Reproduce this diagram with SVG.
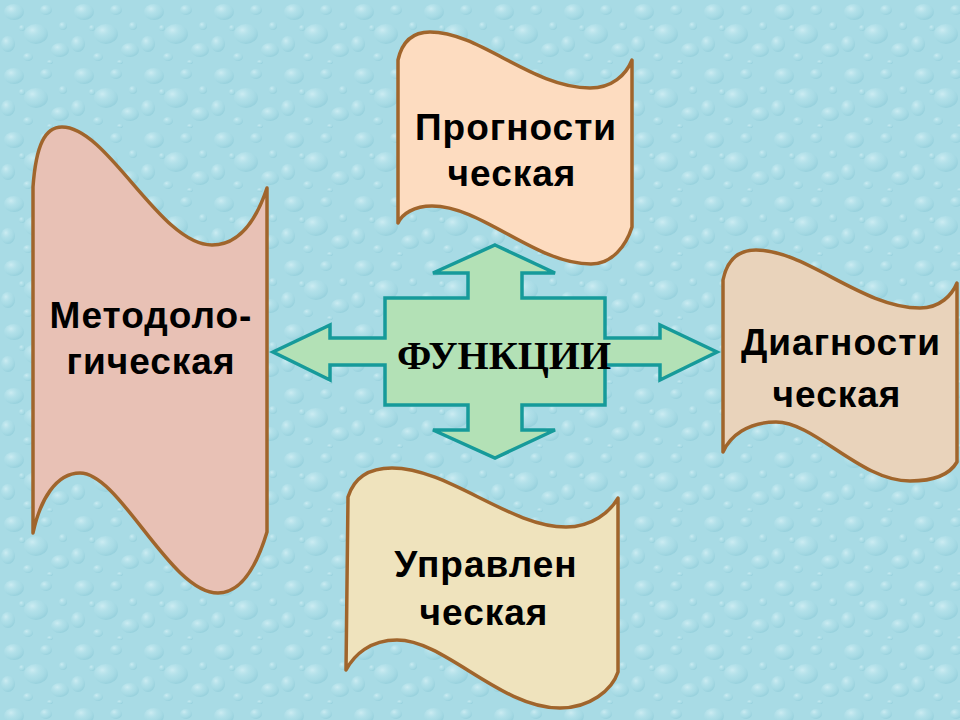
<svg xmlns="http://www.w3.org/2000/svg" width="960" height="720" viewBox="0 0 960 720">
<defs>
<radialGradient id="drop" cx="0.35" cy="0.3" r="0.7">
<stop offset="0" stop-color="#eafafd" stop-opacity="0.55"/>
<stop offset="0.55" stop-color="#bfe8ef" stop-opacity="0.2"/>
<stop offset="1" stop-color="#7cc0cf" stop-opacity="0.35"/>
</radialGradient>
<pattern id="water" width="70" height="64" patternUnits="userSpaceOnUse">
<rect width="70" height="64" fill="#a8dbe5"/>
<ellipse cx="14" cy="12" rx="10" ry="8" fill="url(#drop)"/>
<ellipse cx="46" cy="10" rx="6" ry="5" fill="url(#drop)"/>
<ellipse cx="36" cy="34" rx="12" ry="10" fill="url(#drop)"/>
<ellipse cx="8" cy="44" rx="7" ry="8" fill="url(#drop)"/>
<ellipse cx="60" cy="50" rx="9" ry="7" fill="url(#drop)"/>
<ellipse cx="28" cy="57" rx="5" ry="4" fill="url(#drop)"/>
<ellipse cx="63" cy="26" rx="4" ry="4" fill="url(#drop)"/>
<ellipse cx="22" cy="28" rx="3" ry="3" fill="url(#drop)"/>
<ellipse cx="50" cy="62" rx="3" ry="2" fill="url(#drop)"/>
</pattern>
</defs>
<style>
.tape{stroke:#a0652c;stroke-width:3.5;stroke-linejoin:round}
.lbl{font-family:"Liberation Sans",Arial,sans-serif;font-weight:bold;font-size:37px;letter-spacing:1px;fill:#000;text-anchor:middle}
.cross{fill:#b3e1b6;stroke:#169a9a;stroke-width:3.5;stroke-linejoin:miter}
.center{font-family:"Liberation Serif","Times New Roman",serif;font-weight:bold;font-size:40px;fill:#000;text-anchor:middle}
</style>
<rect width="960" height="720" fill="url(#water)"/>

<g id="connectors">
<polygon class="cross" points="495,245 555,273 522,273 522,298 605,298 605,338 660,338 660,325 717,352 660,380 660,365 605,365 605,405 522,405 522,430 555,430 495,458 433,430 468,430 468,405 385,405 385,365 330,365 330,380 273,352 330,325 330,338 385,338 385,298 468,298 468,273 433,273"/>
</g>

<g id="node-functions">
<text class="center" x="504" y="369">ФУНКЦИИ</text>
</g>

<g id="node-methodological">
<path class="tape" fill="#e8c1b5" d="M33,187 C36,145 45,127 62,127 C108,127 160,245 212,245 C242,245 258,215 267,188 L267,532 C257,565 242,593 218,593 C170,593 120,473 80,473 C56,473 40,500 33,533 Z"/>
<text class="lbl" x="151" y="328">Методоло-</text>
<text class="lbl" x="151" y="374">гическая</text>
</g>

<g id="node-prognostic">
<path class="tape" fill="#fddcc0" d="M398,60 C402,42 412,32 430,32 C480,32 532,88 590,88 C612,88 626,75 632,60 L632,227 C626,246 612,264 591,264 C535,264 482,206 432,206 C414,206 402,214 398,223 Z"/>
<text class="lbl" x="516" y="140">Прогности</text>
<text class="lbl" x="512" y="186">ческая</text>
</g>

<g id="node-diagnostic">
<path class="tape" fill="#e9d3bb" d="M723,280 C727,260 738,250 756,250 C806,250 862,308 920,308 C940,308 952,295 957,283 L957,462 C950,474 935,481 910,481 C860,481 815,422 776,422 C748,422 730,436 723,452 Z"/>
<text class="lbl" x="841" y="355">Диагности</text>
<text class="lbl" x="837" y="407">ческая</text>
</g>

<g id="node-managerial">
<path class="tape" fill="#efe3bd" d="M348,497 C354,478 368,468 392,468 C448,468 510,527 566,527 C592,527 610,512 618,498 L618,672 C612,690 590,708 560,708 C500,708 445,640 397,640 C370,640 354,655 346,670 Z"/>
<text class="lbl" x="486" y="577">Управлен</text>
<text class="lbl" x="484" y="625">ческая</text>
</g>
</svg>
